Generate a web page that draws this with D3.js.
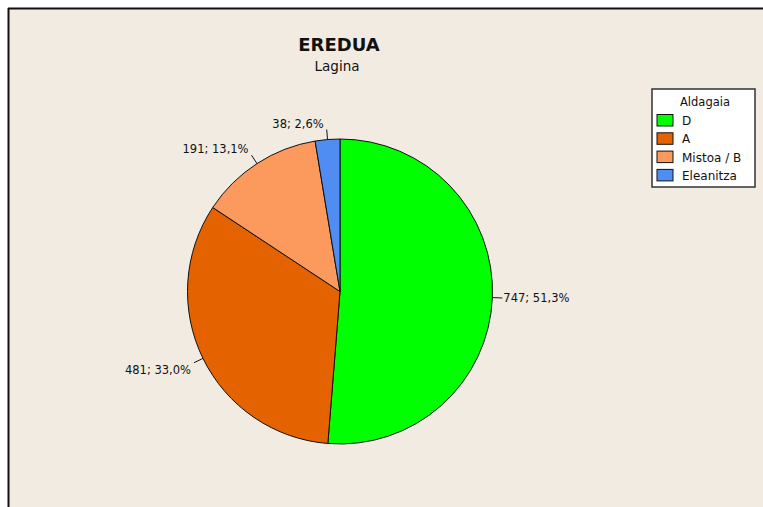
<!DOCTYPE html>
<html>
<head>
<meta charset="utf-8">
<script src="https://cdn.jsdelivr.net/npm/d3@7"></script>
<style>
  html, body { margin: 0; padding: 0; background: #ffffff; }
  svg { display: block; }
</style>
</head>
<body>
<svg id="chart" width="763" height="507"></svg>
<script>
// Pie chart data: school model (eredua) in the sample
const categories = ["D", "A", "Mistoa / B", "Eleanitza"];
const counts = [747, 481, 191, 38];
const colors = ["#00FF00", "#E46300", "#FC9A5E", "#4F8DF2"];
const legendTitle = "Aldagaia";
const titleText = "EREDUA";
const subtitleText = "Lagina";

const W = 763, H = 507;
const svg = d3.select("#chart");
const font = "'DejaVu Sans', Verdana, sans-serif";

// outer panel with dark frame on top and left
svg.append("rect").attr("x", 0).attr("y", 0).attr("width", W).attr("height", H).attr("fill", "#ffffff");
svg.append("rect").attr("x", 8).attr("y", 8).attr("width", W - 8).attr("height", H - 8).attr("fill", "#F2EBE1");
svg.append("line").attr("x1", 8).attr("x2", W).attr("y1", 8.5).attr("y2", 8.5)
  .attr("stroke", "#111").attr("stroke-width", 2);
svg.append("line").attr("x1", 8.5).attr("x2", 8.5).attr("y1", 8).attr("y2", H)
  .attr("stroke", "#111").attr("stroke-width", 2);

// titles
svg.append("text").attr("x", 339).attr("y", 51).attr("text-anchor", "middle")
  .attr("font-family", font).attr("font-weight", "bold").attr("font-size", 18)
  .attr("fill", "#111").text(titleText);
svg.append("text").attr("x", 337).attr("y", 71).attr("text-anchor", "middle")
  .attr("font-family", font).attr("font-size", 13.5)
  .attr("fill", "#111").text(subtitleText);

// pie
const cx = 340, cy = 291.5, r = 152.5;
const total = d3.sum(counts);
const data = categories.map((c, i) => ({ cat: c, value: counts[i], color: colors[i] }));
const pie = d3.pie().value(d => d.value).sort(null);
const arcs = pie(data);
const arc = d3.arc().innerRadius(0).outerRadius(r);

const g = svg.append("g").attr("transform", `translate(${cx},${cy})`);
g.selectAll("path.slice").data(arcs).join("path")
  .attr("class", "slice")
  .attr("d", arc)
  .attr("fill", d => d.data.color)
  .attr("stroke", "#111")
  .attr("stroke-width", 1);

// slice labels with short leader lines
const pctFmt = d3.format(".1f");
const lead = 10;
arcs.forEach(d => {
  const a = (d.startAngle + d.endAngle) / 2;
  const sx = Math.sin(a), cyv = -Math.cos(a);
  const p0 = [r * sx, r * cyv];
  const p1 = [(r + lead) * sx, (r + lead) * cyv];
  g.append("line")
    .attr("x1", p0[0]).attr("y1", p0[1]).attr("x2", p1[0]).attr("y2", p1[1])
    .attr("stroke", "#111").attr("stroke-width", 1);
  const label = `${d.data.value}; ${pctFmt(d.data.value / total * 100).replace(".", ",")}%`;
  let anchor, tx, ty;
  if (sx > 0.3) { anchor = "start"; tx = p1[0] + 1; }
  else { anchor = "end"; tx = p1[0] - 3; }
  if (cyv < -0.3) ty = p1[1] - 2;          // upper half
  else if (cyv > 0.3) ty = p1[1] + 11;     // lower half
  else ty = p1[1] + 4;                     // near horizontal
  g.append("text").attr("x", tx).attr("y", ty).attr("text-anchor", anchor)
    .attr("font-family", font).attr("font-size", 11.5).attr("fill", "#111")
    .text(label);
});

// legend
const lg = svg.append("g").attr("transform", "translate(652,89)");
lg.append("rect").attr("x", 0).attr("y", 0).attr("width", 103).attr("height", 98)
  .attr("fill", "#FFFFFF").attr("stroke", "#333").attr("stroke-width", 1.5);
lg.append("text").attr("x", 53).attr("y", 17).attr("text-anchor", "middle")
  .attr("font-family", font).attr("font-size", 11.5).attr("fill", "#111").text(legendTitle);
const rows = lg.selectAll("g.row").data(data).join("g").attr("class", "row")
  .attr("transform", (d, i) => `translate(5,${25.5 + i * 18.3})`);
rows.append("rect").attr("x", 0).attr("y", 0).attr("width", 16).attr("height", 11.5)
  .attr("fill", d => d.color).attr("stroke", "#111").attr("stroke-width", 1);
rows.append("text").attr("x", 25).attr("y", 10.5).attr("font-family", font)
  .attr("font-size", 12).attr("fill", "#111").text(d => d.cat);
</script>
</body>
</html>
